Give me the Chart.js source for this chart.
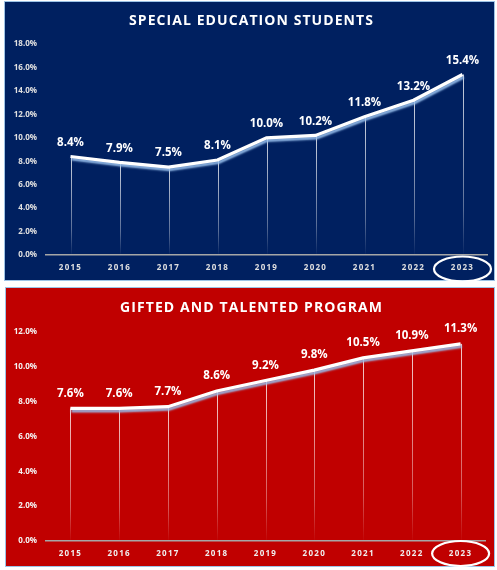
<!DOCTYPE html>
<html><head><meta charset="utf-8">
<script src="https://cdn.jsdelivr.net/npm/chart.js@4.4.1/dist/chart.umd.min.js"></script>
<style>
html,body{margin:0;padding:0;background:#fff;width:497px;height:570px;overflow:hidden;}
.panel{position:absolute;box-sizing:border-box;border:1.5px solid #9DC3E6;}
#p1{left:4px;top:1px;width:491px;height:280px;background:#002060;}
#p2{left:5px;top:287px;width:490px;height:280px;background:#C00000;}
.wrap{position:absolute;left:0;width:497px;height:285px;}
#w1{top:0;}
#w2{top:285px;}
</style></head><body>
<div class="panel" id="p1"></div>
<div class="panel" id="p2"></div>
<div class="wrap" id="w1"><canvas id="c1" width="497" height="285"></canvas></div>
<div class="wrap" id="w2"><canvas id="c2" width="497" height="285"></canvas></div>
<script>
const years = ['2015','2016','2017','2018','2019','2020','2021','2022','2023'];
const specialEdValues = [8.4, 7.9, 7.5, 8.1, 10.0, 10.2, 11.8, 13.2, 15.4];
const giftedValues = [7.6, 7.6, 7.7, 8.6, 9.2, 9.8, 10.5, 10.9, 11.3];
const specialEdTitle = 'SPECIAL EDUCATION STUDENTS';
const giftedTitle = 'GIFTED AND TALENTED PROGRAM';
const specialEdMax = 18;
const giftedMax = 12;

function makeChart(id, title, values, maxY, opts) {
  const fx = {
    id: 'fx',
    beforeDatasetsDraw(chart) {
      const ctx = chart.ctx;
      const meta = chart.getDatasetMeta(0);
      const bottom = chart.chartArea.bottom;
      ctx.save();
      ctx.letterSpacing = '0px';
      meta.data.forEach(pt => {
        const g = ctx.createLinearGradient(0, pt.y, 0, bottom);
        g.addColorStop(0, 'rgba(255,255,255,0.8)');
        g.addColorStop(0.75, 'rgba(255,255,255,0.35)');
        g.addColorStop(1, 'rgba(255,255,255,0.02)');
        ctx.strokeStyle = g;
        ctx.lineWidth = 1;
        ctx.beginPath();
        ctx.moveTo(Math.round(pt.x) + 0.5, pt.y);
        ctx.lineTo(Math.round(pt.x) + 0.5, bottom);
        ctx.stroke();
      });
      ctx.restore();
    },
    beforeDatasetDraw(chart) {
      const ctx = chart.ctx;
      ctx.save();
      ctx.shadowColor = 'rgba(150,190,235,0.95)';
      ctx.shadowOffsetX = 1;
      ctx.shadowOffsetY = 2.5;
      ctx.shadowBlur = 2;
    },
    afterDatasetDraw(chart) {
      chart.ctx.restore();
    },
    afterDatasetsDraw(chart) {
      const ctx = chart.ctx;
      const meta = chart.getDatasetMeta(0);
      ctx.save();
      ctx.letterSpacing = '0px';
      ctx.fillStyle = '#ffffff';
      ctx.font = '700 11.5px "Open Sans"';
      ctx.textAlign = 'center';
      ctx.textBaseline = 'middle';
      meta.data.forEach((pt, i) => {
        ctx.fillText(values[i].toFixed(1) + '%', pt.x, pt.y - opts.labelOffset);
      });
      ctx.restore();
      ctx.letterSpacing = '1.3px';
    },
    afterDraw(chart) {
      const ctx = chart.ctx;
      ctx.letterSpacing = '0px';
      ctx.save();
      ctx.fillStyle = '#ffffff';
      ctx.font = '700 14px "Open Sans"';
      ctx.textBaseline = 'middle';
      ctx.textAlign = 'left';
      const w0 = ctx.measureText(title).width;
      const sp = (opts.titleWidth - w0) / (title.length - 1);
      ctx.letterSpacing = sp.toFixed(2) + 'px';
      ctx.fillText(title, opts.titleCx - opts.titleWidth / 2, opts.titleY);
      ctx.letterSpacing = '0px';
      ctx.restore();
      const xs = chart.scales.x;
      const cx = xs.getPixelForValue(years.length - 1);
      const cy = chart.chartArea.bottom + opts.ellY;
      ctx.save();
      ctx.strokeStyle = '#ffffff';
      ctx.lineWidth = 2.2;
      ctx.beginPath();
      ctx.ellipse(cx, cy, 28.5, 12.5, 0, 0, Math.PI * 2);
      ctx.stroke();
      ctx.restore();
    }
  };
  return new Chart(document.getElementById(id), {
    type: 'line',
    data: {
      labels: years,
      datasets: [{
        data: values,
        borderColor: '#ffffff',
        borderWidth: 3.2,
        pointRadius: 0,
        tension: 0,
        fill: false
      }]
    },
    options: {
      responsive: false,
      animation: false,
      events: [],
      layout: { padding: opts.padding },
      plugins: { legend: { display: false }, title: { display: false }, tooltip: { enabled: false } },
      scales: {
        x: {
          offset: true,
          grid: { display: false, drawTicks: false },
          border: { display: true, color: '#A6A6A6', width: 1.5, z: 1 },
          ticks: { z: 1, color: opts.xTickColor, font: { family: 'Open Sans', weight: '700', size: 8 }, padding: opts.xPad, maxRotation: 0, autoSkip: false },
          afterFit(s) { s.height = opts.xHeight; }
        },
        y: {
          min: 0, max: maxY,
          grid: { display: false, drawTicks: false },
          border: { display: false },
          ticks: { stepSize: 2, color: opts.yTickColor, font: { family: 'Open Sans', weight: '700', size: 8 }, padding: 9,
            callback: v => v.toFixed(1) + '%' },
          afterFit(s) { s.width = 42; }
        }
      }
    },
    plugins: [fx]
  });
}

makeChart('c1', specialEdTitle, specialEdValues, specialEdMax, {
  padding: { left: 4, right: 10, top: 44, bottom: 0 },
  xHeight: 30, xPad: 8, labelOffset: 14, ellY: 14,
  titleCx: 251, titleWidth: 244, titleY: 21,
  xTickColor: '#E0E0E0', yTickColor: '#E0E0E0'
});
makeChart('c2', giftedTitle, giftedValues, giftedMax, {
  padding: { left: 4, right: 12, top: 46.7, bottom: 0 },
  xHeight: 29, xPad: 8, labelOffset: 15, ellY: 12.5,
  titleCx: 251, titleWidth: 262, titleY: 23,
  xTickColor: '#F0F0F0', yTickColor: '#F4F4F4'
});
</script>
</body></html>
